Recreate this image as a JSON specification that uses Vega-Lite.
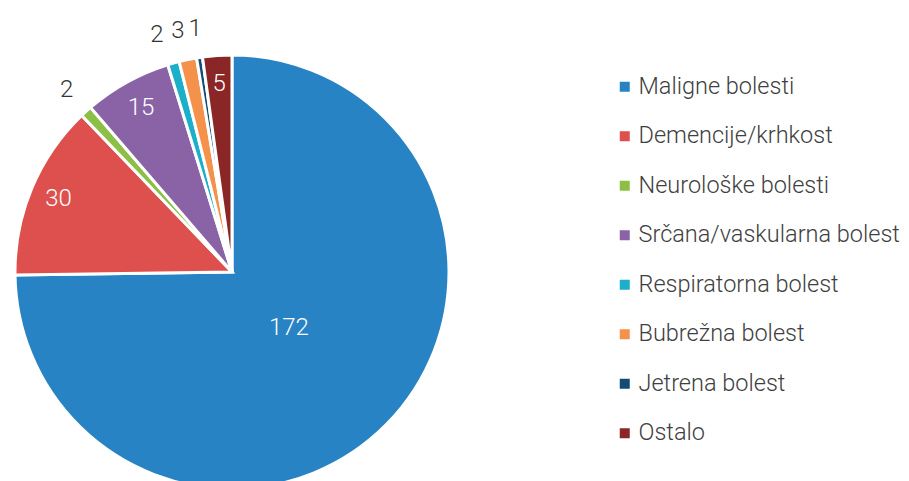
{
  "$schema": "https://vega.github.io/schema/vega-lite/v6.json",
  "width": 464,
  "height": 544,
  "padding": 0,
  "background": "white",
  "config": {"view": {"stroke": null}, "font": "Roboto"},
  "data": {
    "values": [
      {"kategorija": "Maligne bolesti", "broj": 172, "redoslijed": 1},
      {"kategorija": "Demencije/krhkost", "broj": 30, "redoslijed": 2},
      {"kategorija": "Neurološke bolesti", "broj": 2, "redoslijed": 3},
      {"kategorija": "Srčana/vaskularna bolest", "broj": 15, "redoslijed": 4},
      {"kategorija": "Respiratorna bolest", "broj": 2, "redoslijed": 5},
      {"kategorija": "Bubrežna bolest", "broj": 3, "redoslijed": 6},
      {"kategorija": "Jetrena bolest", "broj": 1, "redoslijed": 7},
      {"kategorija": "Ostalo", "broj": 5, "redoslijed": 8}
    ]
  },
  "encoding": {
    "theta": {"field": "broj", "type": "quantitative", "stack": true},
    "order": {"field": "redoslijed", "type": "quantitative"}
  },
  "layer": [
    {
      "mark": {"type": "arc", "outerRadius": 217, "stroke": "white", "strokeWidth": 3},
      "encoding": {
        "color": {
          "field": "kategorija",
          "type": "nominal",
          "sort": null,
          "scale": {
            "domain": ["Maligne bolesti", "Demencije/krhkost", "Neurološke bolesti", "Srčana/vaskularna bolest", "Respiratorna bolest", "Bubrežna bolest", "Jetrena bolest", "Ostalo"],
            "range": ["#2783c4", "#dd504d", "#8cbf45", "#8a63a6", "#1bafca", "#f4924c", "#144b75", "#8b2626"]
          },
          "legend": {
            "title": null,
            "orient": "none",
            "legendX": 613,
            "legendY": 75,
            "padding": 0,
            "symbolType": "square",
            "symbolSize": 100,
            "symbolStrokeWidth": 0,
            "labelFont": "Roboto",
            "labelFontWeight": 300,
            "labelFontSize": 23.5,
            "labelColor": "#404040",
            "labelOffset": 2,
            "rowPadding": 24.5,
            "labelLimit": 400
          }
        }
      }
    },
    {
      "mark": {"type": "text", "radius": 80, "fontSize": 24, "fontWeight": 300, "color": "white"},
      "encoding": {"text": {"condition": {"test": "datum.broj > 100", "field": "broj", "type": "quantitative"}, "value": ""}}
    },
    {
      "mark": {"type": "text", "radius": 188, "fontSize": 24, "fontWeight": 300, "color": "white"},
      "encoding": {"text": {"condition": {"test": "datum.broj >= 5 && datum.broj <= 100", "field": "broj", "type": "quantitative"}, "value": ""}}
    },
    {
      "mark": {"type": "text", "radius": 246, "fontSize": 24, "fontWeight": 300, "color": "#333333"},
      "encoding": {"text": {"condition": {"test": "datum.kategorija == 'Neurološke bolesti' || datum.kategorija == 'Jetrena bolest'", "field": "broj", "type": "quantitative"}, "value": ""}}
    },
    {
      "mark": {"type": "text", "radius": 246, "fontSize": 24, "fontWeight": 300, "color": "#333333", "dx": -4},
      "encoding": {"text": {"condition": {"test": "datum.kategorija == 'Bubrežna bolest'", "field": "broj", "type": "quantitative"}, "value": ""}}
    },
    {
      "mark": {"type": "text", "radius": 246, "fontSize": 24, "fontWeight": 300, "color": "#333333", "align": "right", "dx": -2},
      "encoding": {"text": {"condition": {"test": "datum.kategorija == 'Respiratorna bolest'", "field": "broj", "type": "quantitative"}, "value": ""}}
    }
  ]
}
